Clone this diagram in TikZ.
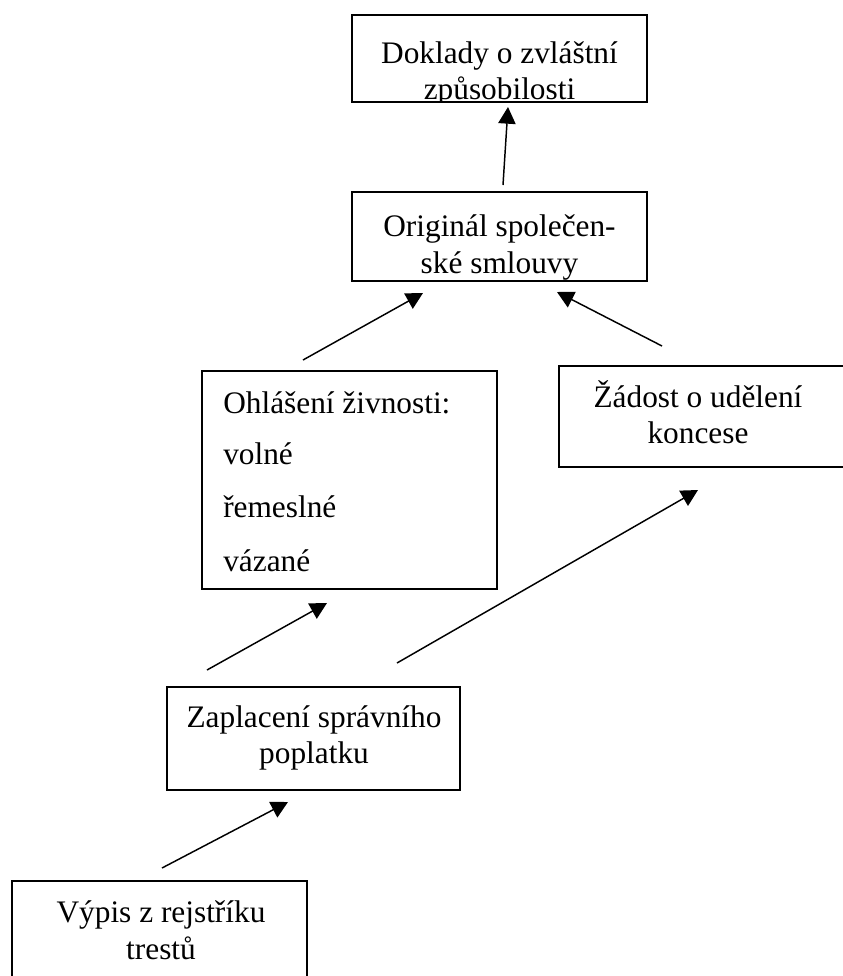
\documentclass[tikz,border=0pt]{standalone}
\usepackage{fontspec}
\setmainfont{Liberation Serif}
\usetikzlibrary{arrows.meta}
\begin{document}
\begin{tikzpicture}[x=0.75pt,y=-0.75pt,
  box/.style={draw, line width=1.2pt, rectangle, inner sep=0pt},
  txt/.style={inner sep=0pt, anchor=base, font=\fontsize{23.5pt}{28pt}\selectfont},
  txtl/.style={txt, anchor=base west},
  conn/.style={line width=1.1pt, -{Triangle[length=12.5pt,width=13pt]}}]
\useasboundingbox (0,0) rectangle (843,976);
\clip (0,0) rectangle (843,976);

% boxes
\node[box, minimum width=221.25pt, minimum height=65.25pt] (doklady) at (499.5,58.5) {};
\node[box, minimum width=221.25pt, minimum height=66.75pt] (original) at (499.5,236.5) {};
\node[box, minimum width=221.25pt, minimum height=163.5pt] (ohlaseni) at (349.5,480) {};
\node[box, minimum width=225.75pt, minimum height=75.75pt] (zadost) at (709.5,416.5) {};
\node[box, minimum width=219.75pt, minimum height=77.25pt] (zaplaceni) at (313.5,738.5) {};
\node[box, minimum width=221.25pt, minimum height=81.75pt] (vypis) at (159.5,935.5) {};

% texts (clipped to their boxes)
\begin{scope}
  \clip (doklady.south west) rectangle (doklady.north east);
  \node[txt] (doklady-t1) at (499.5,63) {Doklady o zvláštní};
  \node[txt] (doklady-t2) at (499.5,99) {způsobilosti};
\end{scope}
\begin{scope}
  \clip (original.south west) rectangle (original.north east);
  \node[txt] (original-t1) at (499.5,236) {Originál společen-};
  \node[txt] (original-t2) at (499.5,273) {ské smlouvy};
\end{scope}
\node[txtl] (ohlaseni-t1) at (223,413) {Ohlášení živnosti:};
\node[txtl] (ohlaseni-t2) at (223,464) {volné};
\node[txtl] (ohlaseni-t3) at (223,517) {řemeslné};
\node[txtl] (ohlaseni-t4) at (223,571) {vázané};
\node[txt] (zadost-t1) at (698,407) {Žádost o udělení};
\node[txt] (zadost-t2) at (698,443) {koncese};
\node[txt] (zaplaceni-t1) at (314,727) {Zaplacení správního};
\node[txt] (zaplaceni-t2) at (314,763) {poplatku};
\node[txt] (vypis-t1) at (161,922) {Výpis z rejstříku};
\node[txt] (vypis-t2) at (161,959) {trestů};

% connector ends
\coordinate (a1s) at (503,185);  \coordinate (a1e) at (508,107);
\coordinate (a2s) at (303,360);  \coordinate (a2e) at (423,293);
\coordinate (a3s) at (662,346);  \coordinate (a3e) at (557,292);
\coordinate (a4s) at (207,670);  \coordinate (a4e) at (327,603);
\coordinate (a5s) at (397,663);  \coordinate (a5e) at (698,490);
\coordinate (a6s) at (162,868);  \coordinate (a6e) at (288,802);

\draw[conn] (a1s) -- (a1e);
\draw[conn] (a2s) -- (a2e);
\draw[conn] (a3s) -- (a3e);
\draw[conn] (a4s) -- (a4e);
\draw[conn] (a5s) -- (a5e);
\draw[conn] (a6s) -- (a6e);
\end{tikzpicture}
\end{document}
